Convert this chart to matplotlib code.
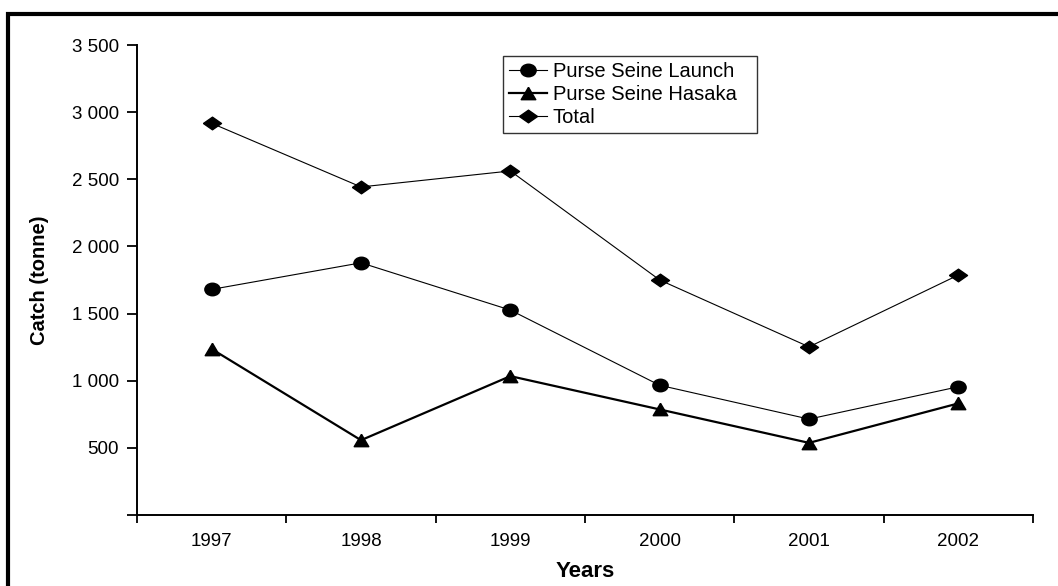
import matplotlib.pyplot as plt
from matplotlib.patches import Rectangle
from matplotlib.path import Path
from matplotlib.transforms import Affine2D
from matplotlib.ticker import FixedLocator, NullFormatter

plt.rcParams['font.family'] = ['Liberation Sans', 'DejaVu Sans']

years = ['1997', '1998', '1999', '2000', '2001', '2002']
launch = [1680, 1878, 1526, 966, 714, 955]
hasaka = [1236, 557, 1034, 786, 537, 831]
total = [2917, 2443, 2562, 1750, 1252, 1787]
y_ticks = [0, 500, 1000, 1500, 2000, 2500, 3000, 3500]

# slightly flattened marker shapes
ellipse = Path.unit_circle().transformed(Affine2D().scale(1.0, 0.82))
triangle = [(0, 0.85), (-1, -0.85), (1, -0.85), (0, 0.85)]
diamond = [(-1, 0), (0, 0.7), (1, 0), (0, -0.7), (-1, 0)]

fig = plt.figure(figsize=(10.58, 5.86), dpi=100)
ax = fig.add_axes([0.1295, 0.1212, 0.8469, 0.802])

x = list(range(1, len(years) + 1))
ax.plot(x, launch, '-', color='black', lw=0.8, marker=ellipse, ms=11,
        label='Purse Seine Launch')
ax.plot(x, hasaka, '-', color='black', lw=1.6, marker=triangle, ms=10.5,
        label='Purse Seine Hasaka')
ax.plot(x, total, '-', color='black', lw=0.8, marker=diamond, ms=13,
        label='Total')

ax.set_xlim(0.5, len(years) + 0.5)
ax.set_ylim(0, 3500)

# category boundaries carry the tick marks, labels sit between them
ax.xaxis.set_major_locator(FixedLocator([i + 0.5 for i in range(len(years) + 1)]))
ax.xaxis.set_major_formatter(NullFormatter())
ax.xaxis.set_minor_locator(FixedLocator(x))
ax.set_xticklabels(years, minor=True)
ax.tick_params(axis='x', which='major', direction='out', length=6, width=1.3)
ax.tick_params(axis='x', which='minor', length=0, pad=13, labelsize=13.5)

ax.set_yticks(y_ticks)
ax.set_yticklabels(['' if v == 0 else f'{v:,}'.replace(',', ' ') for v in y_ticks])
ax.tick_params(axis='y', direction='out', length=7, width=1.3, pad=6, labelsize=13.5)

for side in ['top', 'right']:
    ax.spines[side].set_visible(False)
for side in ['left', 'bottom']:
    ax.spines[side].set_linewidth(1.4)

ax.set_xlabel('Years', fontsize=16, fontweight='bold', labelpad=8)
ax.set_ylabel('Catch (tonne)', fontsize=14.5, fontweight='bold', labelpad=16)

leg = ax.legend(loc='upper left', bbox_to_anchor=(0.4087, 0.9766, 0.2835, 0.0),
                mode='expand', fontsize=14.5, frameon=True, fancybox=False,
                edgecolor='black', handlelength=1.85, handletextpad=0.3,
                borderpad=0.3, labelspacing=0.2, borderaxespad=0)
leg.get_frame().set_linewidth(1.0)

# outer chart border running off the right and bottom edges
fig.patches.append(Rectangle((8 / 1058, -0.2), 1.2, 0.2 + (586 - 14) / 586,
                             transform=fig.transFigure, fill=False,
                             edgecolor='black', lw=3, clip_on=False))

fig.savefig('out.png', dpi=100)
